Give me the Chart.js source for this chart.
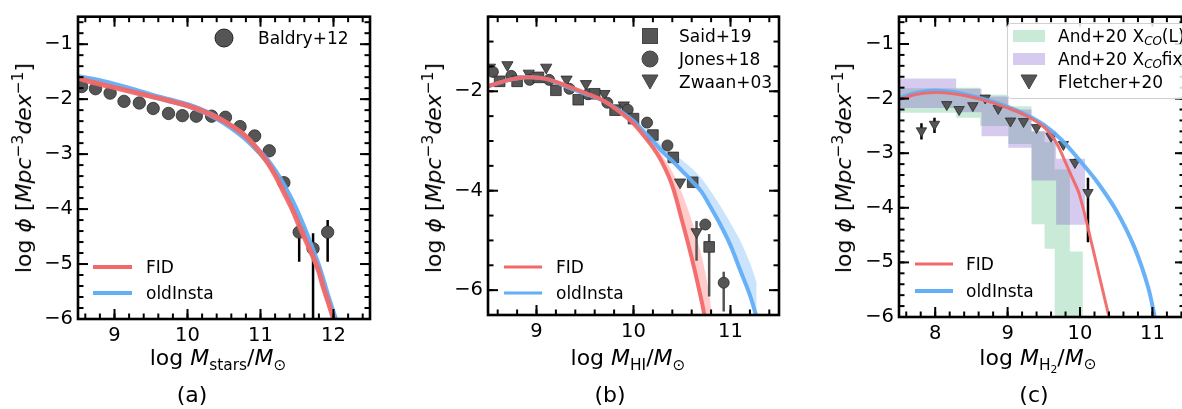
<!DOCTYPE html>
<html><head><meta charset="utf-8">
<script src="https://cdn.jsdelivr.net/npm/chart.js@4.4.1/dist/chart.umd.min.js"></script>
<style>
html,body{margin:0;padding:0;background:#fff;}
#fig{position:relative;width:1182px;height:409px;overflow:hidden;font-family:"DejaVu Sans",sans-serif;color:#000;}
canvas{position:absolute;top:0;}
.yt{position:absolute;white-space:nowrap;transform:translate(-50%,-50%) rotate(-90deg);font-size:22px;line-height:1;}
.xt{position:absolute;white-space:nowrap;transform:translate(-50%,-50%);font-size:22px;line-height:1;}
.lg{position:absolute;font-size:17px;white-space:nowrap;transform:translateY(-50%);line-height:1;}
.ln{position:absolute;height:4px;transform:translateY(-50%);}
.sw{position:absolute;}
sub{font-size:70%;vertical-align:-0.3em;line-height:0;}
sup{font-size:70%;vertical-align:0.55em;line-height:0;}
i{font-style:italic;}
</style></head><body><div id="fig">
<canvas id="ca" width="400" height="409" style="left:0"></canvas>
<canvas id="cb" width="400" height="409" style="left:400px"></canvas>
<canvas id="cc" width="400" height="409" style="left:800px"></canvas>

<div class="yt" style="left:24px;top:168px">log <i>ϕ</i> [<i>Mpc</i><sup>−3</sup><i>dex</i><sup>−1</sup>]</div>
<div class="yt" style="left:434px;top:168px">log <i>ϕ</i> [<i>Mpc</i><sup>−3</sup><i>dex</i><sup>−1</sup>]</div>
<div class="yt" style="left:844px;top:168px">log <i>ϕ</i> [<i>Mpc</i><sup>−3</sup><i>dex</i><sup>−1</sup>]</div>

<div class="xt" style="left:218px;top:358px">log <i>M</i><sub>stars</sub>/<i>M</i><sub>⊙</sub></div>
<div class="xt" style="left:628px;top:358px">log <i>M</i><sub>HI</sub>/<i>M</i><sub>⊙</sub></div>
<div class="xt" style="left:1038px;top:358px">log <i>M</i><sub>H<sub>2</sub></sub>/<i>M</i><sub>⊙</sub></div>

<div class="xt" style="left:192px;top:395px">(a)</div>
<div class="xt" style="left:610px;top:395px">(b)</div>
<div class="xt" style="left:1034px;top:395px">(c)</div>

<!-- legend a -->
<svg class="sw" style="left:214px;top:28px" width="20" height="20"><circle cx="10" cy="10" r="9" fill="#555" stroke="#222" stroke-width="1"/></svg>
<div class="lg" style="left:258px;top:38px">Baldry+12</div>
<div class="ln" style="left:93px;top:267px;width:39px;background:#f26868"></div>
<div class="lg" style="left:146px;top:267px">FID</div>
<div class="ln" style="left:93px;top:293px;width:39px;background:#62aef7"></div>
<div class="lg" style="left:146px;top:293px">oldInsta</div>

<!-- legend b -->
<svg class="sw" style="left:641px;top:27px" width="18" height="18"><rect x="1.5" y="1.5" width="15" height="15" fill="#555" stroke="#444" stroke-width="1"/></svg>
<div class="lg" style="left:679px;top:36px">Said+19</div>
<svg class="sw" style="left:641px;top:50px" width="18" height="18"><circle cx="9" cy="9" r="8" fill="#555" stroke="#444" stroke-width="1"/></svg>
<div class="lg" style="left:679px;top:59px">Jones+18</div>
<svg class="sw" style="left:641px;top:73px" width="18" height="18"><polygon points="1,2 17,2 9,16" fill="#555" stroke="#444" stroke-width="1"/></svg>
<div class="lg" style="left:679px;top:82px">Zwaan+03</div>
<div class="ln" style="left:504px;top:267px;width:38px;background:#f26868;height:3px"></div>
<div class="lg" style="left:556px;top:267px">FID</div>
<div class="ln" style="left:504px;top:293px;width:38px;background:#62aef7;height:3px"></div>
<div class="lg" style="left:556px;top:293px">oldInsta</div>

<!-- legend c -->
<div style="position:absolute;left:1007px;top:23px;width:190px;height:74px;border:1px solid #d0d0d0;border-radius:4px;background:rgba(255,255,255,0.85)"></div>
<div class="sw" style="left:1013px;top:30px;width:32px;height:12px;background:rgba(60,179,113,0.28)"></div>
<div class="lg" style="left:1058px;top:36px">And+20 X<sub><i>CO</i></sub>(L)</div>
<div class="sw" style="left:1013px;top:53px;width:32px;height:12px;background:rgba(120,80,200,0.30)"></div>
<div class="lg" style="left:1058px;top:59px">And+20 X<sub><i>CO</i></sub>fix</div>
<svg class="sw" style="left:1020px;top:73px" width="18" height="18"><polygon points="1,2 17,2 9,16" fill="#555" stroke="#444" stroke-width="1"/></svg>
<div class="lg" style="left:1058px;top:82px">Fletcher+20</div>
<div class="ln" style="left:915px;top:264px;width:38px;background:#f26868;height:3px"></div>
<div class="lg" style="left:966px;top:264px">FID</div>
<div class="ln" style="left:915px;top:291px;width:38px;background:#62aef7;height:4px"></div>
<div class="lg" style="left:966px;top:291px">oldInsta</div>
</div>
<script>
// ---------- colours ----------
const RED = 'rgba(242,104,104,0.95)';
const BLUE = 'rgba(98,174,247,0.95)';
const MARK = '#555555';

// ---------- panel (a): stellar mass function ----------
const xTicksA = [9, 10, 11, 12];
const yTicksA = [-6, -5, -4, -3, -2, -1];
const smfX   = [8.5, 8.75, 9.0, 9.25, 9.5, 9.75, 10.0, 10.25, 10.5, 10.75, 10.9, 11.08, 11.2, 11.31, 11.43, 11.54, 11.63, 11.72, 11.8, 11.86, 11.93, 12.0];
const smfFID = [-1.62, -1.71, -1.79, -1.87, -1.95, -2.03, -2.12, -2.24, -2.40, -2.62, -2.82, -3.12, -3.38, -3.67, -3.99, -4.33, -4.60, -4.87, -5.14, -5.42, -5.70, -6.0];
const smfXb  = [8.5, 8.75, 9.0, 9.25, 9.5, 9.75, 10.0, 10.25, 10.5, 10.75, 10.9, 11.08, 11.2, 11.31, 11.43, 11.54, 11.63, 11.72, 11.8, 11.86, 11.93, 12.02];
const smfOld = [-1.60, -1.66, -1.74, -1.83, -1.93, -2.02, -2.11, -2.24, -2.42, -2.66, -2.84, -3.10, -3.32, -3.56, -3.86, -4.18, -4.47, -4.78, -5.07, -5.33, -5.64, -6.0];
const baldryX = [8.55, 8.74, 8.94, 9.13, 9.34, 9.53, 9.74, 9.93, 10.12, 10.33, 10.52, 10.72, 10.92, 11.12, 11.32, 11.53, 11.72, 11.92];
const baldryY = [-1.77, -1.81, -1.89, -2.04, -2.07, -2.17, -2.26, -2.30, -2.31, -2.31, -2.33, -2.50, -2.67, -2.94, -3.52, -4.42, -4.72, -4.42];
const baldryLo = [null, null, null, null, null, null, null, null, null, null, null, null, null, null, null, -4.96, -6.6, -4.96];
const baldryHi = [null, null, null, null, null, null, null, null, null, null, null, null, null, null, null, -4.21, -4.44, -4.20];

// ---------- panel (b): HI mass function ----------
const xTicksB = [9, 10, 11];
const yTicksB = [-6, -4, -2];
const hiX    = [8.5, 8.7, 8.9, 9.1, 9.3, 9.5, 9.7, 9.9, 10.0, 10.1, 10.2, 10.3, 10.4, 10.5, 10.6, 10.7, 10.8, 10.9, 11.0, 11.1, 11.2, 11.27];
const hiOld  = [-1.90, -1.78, -1.72, -1.75, -1.90, -2.05, -2.20, -2.45, -2.60, -2.80, -3.00, -3.22, -3.40, -3.60, -3.80, -4.02, -4.35, -4.70, -5.10, -5.60, -6.10, -6.55];
const hiOldUp= [-1.88, -1.76, -1.70, -1.73, -1.88, -2.03, -2.17, -2.40, -2.54, -2.72, -2.90, -3.10, -3.25, -3.38, -3.55, -3.75, -4.02, -4.32, -4.65, -5.00, -5.45, -5.85];
const hiXr   = [8.5, 8.7, 8.9, 9.1, 9.3, 9.5, 9.7, 9.9, 10.0, 10.1, 10.2, 10.3, 10.4, 10.5, 10.6, 10.7, 10.75];
const hiFID  = [-1.90, -1.78, -1.72, -1.75, -1.88, -2.03, -2.20, -2.48, -2.65, -2.88, -3.13, -3.45, -3.90, -4.60, -5.35, -6.20, -6.70];
const hiBandX  = [9.9, 10.0, 10.1, 10.2, 10.3, 10.4, 10.5, 10.6, 10.7, 10.75, 10.82];
const hiBandLo = [-2.48, -2.65, -2.88, -3.13, -3.45, -3.90, -4.60, -5.35, -6.20, -6.70, -7.20];
const hiBandUp = [-2.45, -2.60, -2.80, -3.02, -3.30, -3.62, -4.05, -4.60, -5.30, -5.75, -6.60];
const saidX = [8.62, 8.80, 9.02, 9.20, 9.43, 9.60, 9.81, 10.0, 10.2, 10.41, 10.61, 10.78];
const saidY = [-1.80, -1.80, -1.72, -1.98, -2.17, -2.05, -2.38, -2.55, -2.88, -3.33, -3.83, -5.13];
const saidLo = [null, null, null, null, null, null, null, null, null, null, null, -6.13];
const saidHi = [null, null, null, null, null, null, null, null, null, null, null, -4.87];
const jonesX = [8.55, 8.74, 8.93, 9.13, 9.34, 9.53, 9.73, 9.94, 10.14, 10.35, 10.74, 10.93];
const jonesY = [-1.61, -1.69, -1.77, -1.77, -1.95, -2.06, -2.23, -2.37, -2.63, -3.09, -4.68, -5.85];
const jonesLo = [null, null, null, null, null, null, null, null, null, null, null, -6.43];
const jonesHi = [null, null, null, null, null, null, null, null, null, null, null, -5.63];
const zwaanX = [8.52, 8.70, 8.92, 9.10, 9.31, 9.51, 9.70, 9.90, 10.48, 10.65];
const zwaanY = [-1.52, -1.47, -1.64, -1.52, -1.76, -1.85, -2.05, -2.28, -3.83, -4.83];
const zwaanLo = [null, null, null, null, null, null, null, null, null, -5.41];
const zwaanHi = [null, null, null, null, null, null, null, null, null, -4.61];

// ---------- panel (c): H2 mass function ----------
const xTicksC = [8, 9, 10, 11];
const yTicksC = [-6, -5, -4, -3, -2, -1];
const h2X   = [7.5, 7.75, 8.0, 8.25, 8.5, 8.75, 9.0, 9.25, 9.5, 9.75, 10.0, 10.25, 10.5, 10.75, 10.94, 11.04];
const h2Old = [-1.99, -1.89, -1.85, -1.88, -1.95, -2.04, -2.15, -2.29, -2.48, -2.76, -3.14, -3.55, -4.05, -4.72, -5.45, -6.05];
const h2Xr  = [7.5, 7.75, 8.0, 8.25, 8.5, 8.75, 9.0, 9.25, 9.5, 9.63, 9.72, 9.81, 9.9, 9.99, 10.13, 10.27, 10.41];
const h2FID = [-2.02, -1.92, -1.89, -1.91, -1.97, -2.06, -2.17, -2.31, -2.52, -2.72, -2.93, -3.20, -3.47, -3.75, -4.48, -5.27, -6.05];
// Andreani+20 step bands: bin edges, lower and upper limits
const andLEdges = [7.4, 8.29, 8.62, 9.01, 9.33, 9.51, 9.65, 9.86, 10.04];
const andLLow   = [-2.26, -2.35, -2.50, -2.83, -4.30, -4.75, -6.6, -6.6];
const andLHigh  = [-1.81, -1.80, -1.93, -2.14, -2.60, -2.80, -3.30, -4.80];
const andFEdges = [7.4, 8.29, 8.64, 9.01, 9.33, 9.67, 10.07];
const andFLow   = [-2.17, -2.25, -2.69, -2.90, -3.50, -4.31];
const andFHigh  = [-1.63, -1.82, -1.96, -2.20, -2.60, -3.10];
const fletX = [7.81, 7.99, 8.16, 8.33, 8.52, 8.69, 8.87, 9.04, 9.22, 9.40, 9.60, 9.77, 9.93, 10.11];
const fletY = [-2.59, -2.47, -2.11, -2.20, -2.13, -1.99, -2.18, -2.41, -2.42, -2.53, -2.69, -2.84, -3.17, -3.72];
const fletLo = [-2.75, -2.63, null, null, null, null, null, null, null, null, null, null, -3.24, -4.63];
const fletHi = [-2.45, -2.35, null, null, null, null, null, null, null, null, null, null, -3.10, -3.45];

// ---------- helpers ----------
const pts = (xs, ys) => xs.map((x, i) => ({x, y: ys[i]}));
const stepPts = (edges, vals) => {
  const out = [];
  vals.forEach((v, i) => { out.push({x: edges[i], y: v}); out.push({x: edges[i + 1], y: v}); });
  return out;
};
const fmt = v => (v < 0 ? '\u2212' + Math.abs(v) : String(v));

const lineDS = (data, color, w, order) => ({type: 'line', data, borderColor: color, borderWidth: w,
  pointRadius: 0, fill: false, tension: 0.35, order, borderCapStyle: 'butt', borderJoinStyle: 'round'});
const markDS = (data, style, r, lo, hi, errColor, order, rot) => ({type: 'scatter', data, pointStyle: style,
  pointRadius: r, pointHoverRadius: r, pointRotation: rot || 0, backgroundColor: MARK, borderColor: '#2a2a2a',
  borderWidth: 0.8, errLo: lo, errHi: hi, errColor, order});

const errPlugin = {
  id: 'errbars',
  beforeDatasetDraw(chart, args) {
    const ds = chart.data.datasets[args.index];
    if (!ds.errLo) return;
    const {ctx, scales: {x, y}, chartArea: a} = chart;
    ctx.save();
    ctx.beginPath(); ctx.rect(a.left, a.top, a.right - a.left, a.bottom - a.top); ctx.clip();
    ctx.strokeStyle = ds.errColor; ctx.lineWidth = 2.5;
    ds.data.forEach((p, i) => {
      if (ds.errLo[i] == null) return;
      const px = x.getPixelForValue(p.x);
      ctx.beginPath();
      ctx.moveTo(px, y.getPixelForValue(ds.errLo[i]));
      ctx.lineTo(px, y.getPixelForValue(ds.errHi[i]));
      ctx.stroke();
    });
    ctx.restore();
  }
};

const axesPlugin = {
  id: 'mplAxes',
  afterDraw(chart) {
    const o = chart.config.options.mpl;
    const {ctx, chartArea: a, scales: {x, y}} = chart;
    ctx.save();
    ctx.strokeStyle = '#000';
    ctx.lineWidth = 2;
    const tick = (px, py, dx, dy) => { ctx.beginPath(); ctx.moveTo(px, py); ctx.lineTo(px + dx, py + dy); ctx.stroke(); };
    const xs = (step) => { const r = []; for (let v = Math.ceil(x.min / step - 1e-6) * step; v <= x.max + 1e-6; v += step) r.push(v); return r; };
    const ys = (step) => { const r = []; for (let v = Math.ceil(y.min / step - 1e-6) * step; v <= y.max + 1e-6; v += step) r.push(v); return r; };
    const MJ = 10, MN = 5.5;
    xs(o.xMinor).forEach(v => { const p = x.getPixelForValue(v); tick(p, a.bottom, 0, -MN); tick(p, a.top, 0, MN); });
    ys(o.yMinor).forEach(v => { const p = y.getPixelForValue(v); tick(a.left, p, MN, 0); tick(a.right, p, -MN, 0); });
    o.xMajor.forEach(v => { const p = x.getPixelForValue(v); tick(p, a.bottom, 0, -MJ); tick(p, a.top, 0, MJ); });
    o.yMajor.forEach(v => { const p = y.getPixelForValue(v); tick(a.left, p, MJ, 0); tick(a.right, p, -MJ, 0); });
    ctx.lineWidth = 2.6;
    ctx.strokeRect(a.left, a.top, a.right - a.left, a.bottom - a.top);
    ctx.restore();
  }
};

function makeChart(id, c) {
  const tickFont = {family: 'DejaVu Sans', size: 19.5};
  return new Chart(document.getElementById(id), {
    type: 'scatter',
    data: {datasets: c.datasets},
    options: {
      responsive: false, animation: false, devicePixelRatio: 1,
      mpl: {xMajor: c.xTicks, yMajor: c.yTicks, xMinor: c.xMinor, yMinor: c.yMinor},
      layout: {padding: {top: c.top, right: c.right, left: 0, bottom: 0}},
      plugins: {legend: {display: false}, tooltip: {enabled: false}},
      scales: {
        x: {type: 'linear', min: c.xmin, max: c.xmax,
          grid: {display: false, drawTicks: false}, border: {display: false},
          ticks: {font: tickFont, color: '#000', padding: 5, autoSkip: false, maxRotation: 0, callback: fmt},
          afterBuildTicks: s => { s.ticks = c.xTicks.map(v => ({value: v})); },
          afterFit: s => { s.height = c.xh; }},
        y: {type: 'linear', min: c.ymin, max: c.ymax,
          grid: {display: false, drawTicks: false}, border: {display: false},
          ticks: {font: tickFont, color: '#000', padding: 5, autoSkip: false, callback: fmt},
          afterBuildTicks: s => { s.ticks = c.yTicks.map(v => ({value: v})); },
          afterFit: s => { s.width = c.yw; }}
      }
    },
    plugins: [errPlugin, axesPlugin]
  });
}

// panel a
makeChart('ca', {
  xmin: 8.5, xmax: 12.5, ymin: -6, ymax: -0.5, xTicks: xTicksA, yTicks: yTicksA, xMinor: 0.2, yMinor: 0.2,
  top: 15, right: 30, xh: 90, yw: 78,
  datasets: [
    lineDS(pts(smfX, smfFID), RED, 5, 0),
    lineDS(pts(smfXb, smfOld), BLUE, 6, 1),
    markDS(pts(baldryX, baldryY), 'circle', 6.2, baldryLo, baldryHi, '#000', 5)
  ]
});

// panel b
makeChart('cb', {
  xmin: 8.5, xmax: 11.5, ymin: -6.5, ymax: -0.5, xTicks: xTicksB, yTicks: yTicksB, xMinor: 0.2, yMinor: 0.5,
  top: 15, right: 21, xh: 94, yw: 88,
  datasets: [
    lineDS(pts(hiXr, hiFID), RED, 4, 0),
    lineDS(pts(hiX, hiOld), BLUE, 4, 1),
    {type: 'line', data: pts(hiBandX, hiBandLo), borderWidth: 0, pointRadius: 0, fill: false, order: 8, tension: 0.3},
    {type: 'line', data: pts(hiBandX, hiBandUp), borderWidth: 0, pointRadius: 0, fill: {target: 2}, backgroundColor: 'rgba(255,140,140,0.45)', order: 8, tension: 0.3},
    {type: 'line', data: pts(hiX, hiOld), borderWidth: 0, pointRadius: 0, fill: false, order: 8, tension: 0.3},
    {type: 'line', data: pts(hiX, hiOldUp), borderWidth: 0, pointRadius: 0, fill: {target: 4}, backgroundColor: 'rgba(140,195,250,0.45)', order: 8, tension: 0.3},
    markDS(pts(saidX, saidY), 'rect', 7.5, saidLo, saidHi, '#555', 5),
    markDS(pts(jonesX, jonesY), 'circle', 5.5, jonesLo, jonesHi, '#555', 5),
    markDS(pts(zwaanX, zwaanY), 'triangle', 6.5, zwaanLo, zwaanHi, '#555', 5, 180)
  ]
});

// panel c
makeChart('cc', {
  xmin: 7.5, xmax: 11.45, ymin: -6, ymax: -0.5, xTicks: xTicksC, yTicks: yTicksC, xMinor: 0.2, yMinor: 0.2,
  top: 15, right: 15, xh: 92, yw: 99,
  datasets: [
    lineDS(pts(h2Xr, h2FID), RED, 3, 0),
    lineDS(pts(h2X, h2Old), BLUE, 4, 1),
    {type: 'line', data: stepPts(andLEdges, andLLow), borderWidth: 0, pointRadius: 0, fill: false, order: 9, tension: 0},
    {type: 'line', data: stepPts(andLEdges, andLHigh), borderWidth: 0, pointRadius: 0, fill: {target: 2}, backgroundColor: 'rgba(60,179,113,0.28)', order: 9, tension: 0},
    {type: 'line', data: stepPts(andFEdges, andFLow), borderWidth: 0, pointRadius: 0, fill: false, order: 8, tension: 0},
    {type: 'line', data: stepPts(andFEdges, andFHigh), borderWidth: 0, pointRadius: 0, fill: {target: 4}, backgroundColor: 'rgba(120,80,200,0.30)', order: 8, tension: 0},
    markDS(pts(fletX, fletY), 'triangle', 6, fletLo, fletHi, '#000', 5, 180)
  ]
});
</script>
</body></html>
